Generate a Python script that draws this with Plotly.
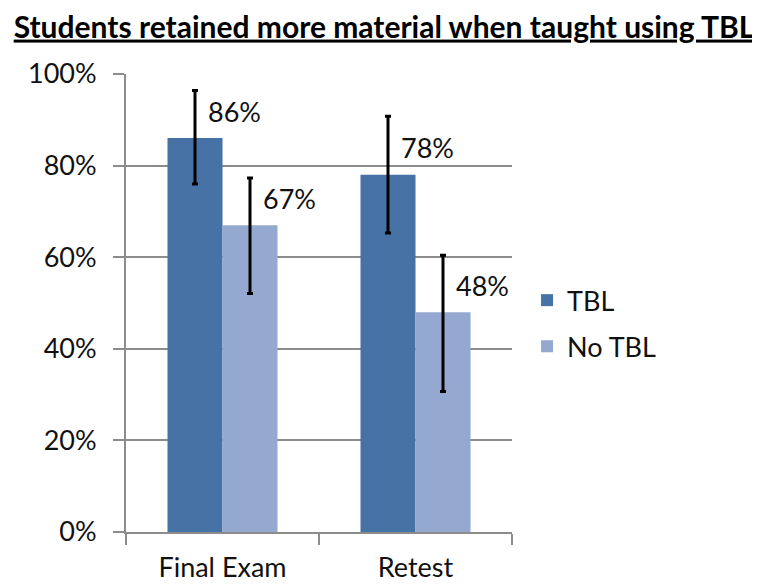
import plotly.graph_objects as go

# chart data
categories = ["Final Exam", "Retest"]
series_names = ["TBL", "No TBL"]
tbl_values = [86, 78]
no_tbl_values = [67, 48]
tbl_err_plus = [10.4, 12.8]
tbl_err_minus = [10.0, 12.7]
no_tbl_err_plus = [10.3, 12.4]
no_tbl_err_minus = [14.9, 17.3]
y_ticks = [0, 20, 40, 60, 80, 100]

colors = ["#4672A6", "#95A9D0"]
font = "Lato"
fsize = 27
txt = '#111111'
bargap = 0.43

fig = go.Figure()
series = [
	(tbl_values, tbl_err_plus, tbl_err_minus),
	(no_tbl_values, no_tbl_err_plus, no_tbl_err_minus),
]
for i, (vals, ep, em) in enumerate(series):
	fig.add_trace(go.Bar(
		x=categories,
		y=vals,
		name=series_names[i],
		marker=dict(color=colors[i], line=dict(width=0)),
		error_y=dict(
			type='data',
			symmetric=False,
			array=ep,
			arrayminus=em,
			color='black',
			thickness=3,
			width=3
		),
		showlegend=False,
		hoverinfo='skip'
	))

# bigger square legend keys, as in the original
for i, name in enumerate(series_names):
	fig.add_trace(go.Scatter(
		x=[None], y=[None],
		mode='markers',
		marker=dict(symbol='square', size=19, color=colors[i]),
		name=name,
		legendgroup=name
	))

# data labels sit to the right of the error bars
annotations = []
half = (1 - bargap) / 4
for i, (vals, ep, em) in enumerate(series):
	offset = -half if i == 0 else half
	for j, v in enumerate(vals):
		annotations.append(dict(
			x=j + offset, y=v, xref='x', yref='y',
			text="%d%%" % v,
			showarrow=False,
			xanchor='left', yanchor='middle',
			xshift=11, yshift=27,
			font=dict(family=font, size=fsize, color=txt)
		))

fig.update_layout(
	width=752,
	height=578,
	margin=dict(l=118, r=248, t=66, b=54),
	paper_bgcolor='white',
	plot_bgcolor='white',
	barmode='group',
	bargap=bargap,
	bargroupgap=0,
	title=dict(
		text="<b><u>Students retained more material when taught using TBL</u></b>",
		x=0.5, xanchor='center',
		y=0.967, yanchor='middle',
		font=dict(family=font, size=30, color='black')
	),
	legend=dict(
		x=1.039, xanchor='left',
		y=0.455, yanchor='middle',
		font=dict(family=font, size=fsize, color=txt),
		itemsizing='constant',
		tracegroupgap=8
	),
	annotations=annotations,
	font=dict(family=font, size=fsize, color=txt)
)
fig.update_xaxes(
	showline=True, linecolor='#8c8c8c', linewidth=2,
	ticks='outside', tickson='boundaries', ticklen=11,
	tickcolor='#8c8c8c', tickwidth=2,
	showgrid=False,
	automargin=False,
	ticklabelstandoff=11,
	tickfont=dict(family=font, size=fsize, color=txt)
)
fig.update_yaxes(
	range=[0, 100],
	tickvals=y_ticks,
	ticktext=["%d%%" % t for t in y_ticks],
	showline=True, linecolor='#8c8c8c', linewidth=2,
	ticks='outside', ticklen=11, tickcolor='#8c8c8c', tickwidth=2,
	showgrid=True, gridcolor='#8c8c8c', gridwidth=1.5,
	zeroline=False,
	automargin=False,
	ticklabelstandoff=11,
	tickfont=dict(family=font, size=fsize, color=txt)
)

fig.write_html("out.html")
